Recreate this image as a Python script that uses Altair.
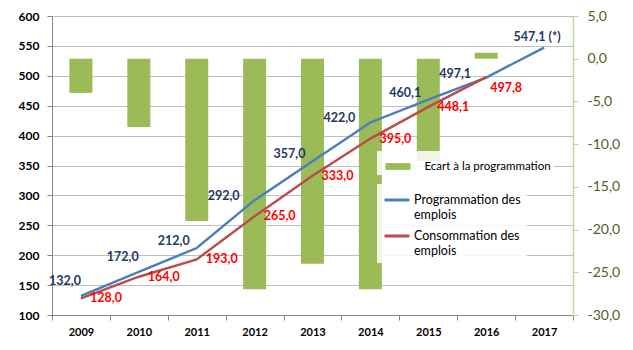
import json
import altair as alt
import pandas as pd

years = ["2009", "2010", "2011", "2012", "2013", "2014", "2015", "2016", "2017"]
programmation = [132.0, 172.0, 212.0, 292.0, 357.0, 422.0, 460.1, 497.1, 547.1]
consommation = [128.0, 164.0, 193.0, 265.0, 333.0, 395.0, 448.1, 497.8, None]
ecart = [-4.0, -8.0, -19.0, -27.0, -24.0, -27.0, -12.0, 0.7, None]
prog_labels = ["132,0", "172,0", "212,0", "292,0", "357,0", "422,0", "460,1", "497,1", "547,1 (*)"]
cons_labels = ["128,0", "164,0", "193,0", "265,0", "333,0", "395,0", "448,1", "497,8", None]
left_ticks = [100, 150, 200, 250, 300, 350, 400, 450, 500, 550, 600]
right_ticks = [-30, -25, -20, -15, -10, -5, 0, 5]

S_BAR = "Ecart à la programmation"
S_PROG = "Programmation des emplois"
S_CONS = "Consommation des emplois"

df_bar = pd.DataFrame({"annee": years, "valeur": ecart, "serie": S_BAR}).dropna()
df_prog = pd.DataFrame({"annee": years, "valeur": programmation, "serie": S_PROG, "label": prog_labels})
df_cons = pd.DataFrame({"annee": years, "valeur": consommation, "serie": S_CONS, "label": cons_labels}).dropna()
df_lines = pd.concat([df_prog, df_cons], ignore_index=True)

FONT = "Lato"

x_enc = alt.X(
    "annee:N", sort=years,
    scale=alt.Scale(domain=years, paddingInner=0, paddingOuter=0),
    axis=alt.Axis(title=None, tickBand="extent", labelAngle=0, labelFont=FONT,
                  labelFontWeight="bold", labelFontSize=11, labelColor="black",
                  labelPadding=6, domainColor="#868686", tickColor="#868686",
                  tickSize=5, grid=False),
)

y_left_scale = alt.Scale(domain=[100, 600], nice=False, zero=False)
y_left_axis = alt.Axis(title=None, values=left_ticks, labelFont=FONT, labelFontSize=12,
                       labelFontWeight="bold", labelColor="black", labelPadding=8,
                       domainColor="#868686", tickColor="#868686", tickSize=5,
                       gridColor="#BFBFBF", gridWidth=1, grid=True)

bars = alt.Chart(df_bar).mark_bar(size=23).encode(
    x=x_enc,
    y=alt.Y("valeur:Q", scale=alt.Scale(domain=[-30, 5], nice=False, zero=False),
            axis=alt.Axis(orient="right", title=None, values=right_ticks, grid=False,
                          labelExpr="(datum.value < 0 ? '-' : '') + replace(format(abs(datum.value), '.1f'), '.', ',')",
                          labelFont=FONT, labelFontSize=14, labelColor="#4F6228",
                          labelPadding=9, domainColor="#C3D69B", domainWidth=1.5,
                          tickColor="#C3D69B", tickSize=5)),
    color=alt.Color("serie:N", scale=alt.Scale(domain=[S_BAR], range=["#9BBB59"]),
                    legend=alt.Legend(title=None, orient="none", legendX=325, legendY=135,
                                      fillColor="rgba(255,255,255,0.85)", padding=3,
                                      symbolType="M-1,-0.27L1,-0.27L1,0.27L-1,0.27Z",
                                      symbolSize=625, symbolStrokeWidth=0, symbolOpacity=1,
                                      symbolOffset=5.5,
                                      labelFont=FONT, labelFontSize=11.5, labelColor="black",
                                      labelOffset=14, labelLimit=220)),
)

lines = alt.Chart(df_lines).mark_line(strokeWidth=2.4).encode(
    x=x_enc,
    y=alt.Y("valeur:Q", scale=y_left_scale, axis=y_left_axis),
    stroke=alt.Stroke("serie:N", scale=alt.Scale(domain=[S_PROG, S_CONS], range=["#4A7EBB", "#BE4B48"]),
                      legend=alt.Legend(title=None, orient="none", legendX=325, legendY=168,
                                        fillColor="rgba(255,255,255,0.85)", padding=6,
                                        symbolType="M-1,-0.32L1,-0.32", symbolSize=625,
                                        symbolStrokeWidth=3, rowPadding=5,
                                        labelFont=FONT, labelFontSize=12.5, labelColor="black",
                                        labelOffset=3, labelLimit=220, labelBaseline="alphabetic",
                                        labelExpr="datum.label == 'Programmation des emplois' ? ['Programmation des', 'emplois'] : ['Consommation des', 'emplois']")),
)


def label_layer(serie, color, yrs, dx, dy):
    expr = f"datum.serie == '{serie}' && indexof({json.dumps(yrs)}, datum.annee) >= 0"
    return alt.Chart(df_lines).transform_filter(expr).mark_text(
        font=FONT, fontSize=12.5, fontWeight="bold", color=color,
        align="center", baseline="middle", dx=dx, dy=dy).encode(
        x=alt.X("annee:N", sort=years),
        y=alt.Y("valeur:Q", scale=y_left_scale, axis=y_left_axis),
        text="label:N",
    )


BLUE_TXT = "#1F3864"
RED_TXT = "#FF0000"
texts = [
    label_layer(S_PROG, BLUE_TXT, ["2009", "2010"], -16, -15),
    label_layer(S_PROG, BLUE_TXT, ["2011", "2013", "2015"], -23, -7),
    label_layer(S_PROG, BLUE_TXT, ["2012", "2014", "2016"], -31, -4),
    label_layer(S_PROG, BLUE_TXT, ["2017"], -7, -11),
    label_layer(S_CONS, RED_TXT, ["2009", "2010", "2011", "2012", "2013", "2014", "2015"], 25, 0),
    label_layer(S_CONS, RED_TXT, ["2016"], 20, 11),
]

left = alt.layer(lines, *texts)

chart = alt.layer(bars, left).resolve_scale(y="independent").properties(
    width=521, height=299,
    autosize=alt.AutoSizeParams(type="none"),
    padding={"left": 52, "top": 16, "right": 60, "bottom": 35},
    background="white",
).configure_view(stroke=None)

chart.save("out.html", embed_options={"renderer": "svg", "actions": False})
